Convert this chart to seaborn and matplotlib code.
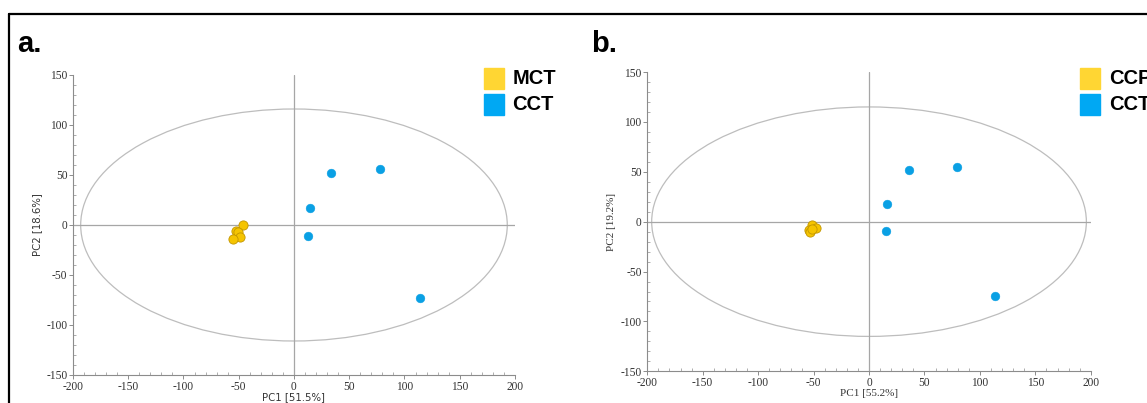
import matplotlib
matplotlib.use("Agg")
import matplotlib.pyplot as plt
import seaborn as sns
import pandas as pd
from matplotlib.patches import Ellipse, Rectangle
from matplotlib.lines import Line2D
from matplotlib.ticker import MultipleLocator

# Panel a: MCT vs CCT
a_groups = ['MCT'] * 5 + ['CCT'] * 5
a_pc1 = [-46.4, -52.5, -51.0, -49.0, -55.5, 33.2, 77.5, 14.8, 12.5, 113.6]
a_pc2 = [-0.3, -6.3, -7.0, -12.0, -14.3, 52.0, 56.3, 16.7, -11.3, -73.0]
a_ellipse = [193, 116]   # semi-axes (PC1, PC2) of the 95% ellipse
a_xlabel = 'PC1 [51.5%]'
a_ylabel = 'PC2 [18.6%]'

# Panel b: CCP vs CCT
b_groups = ['CCP'] * 5 + ['CCT'] * 5
b_pc1 = [-51.5, -48.2, -53.8, -53.0, -51.0, 35.8, 79.3, 16.6, 15.2, 113.2]
b_pc2 = [-3.3, -6.0, -8.3, -10.3, -7.0, 51.4, 54.7, 17.7, -9.0, -74.3]
b_ellipse = [196, 115]
b_xlabel = 'PC1 [55.2%]'
b_ylabel = 'PC2 [19.2%]'

ticks = [-200, -150, -100, -50, 0, 50, 100, 150, 200]

sns.set_theme(style="white")
plt.rcParams['font.family'] = 'sans-serif'
plt.rcParams['axes.unicode_minus'] = False

dot_yellow = '#F5C400'
dot_blue = '#0AA0E4'
leg_yellow = '#FFD633'
leg_blue = '#00A8F3'
axis_gray = '#8c8c8c'

fig = plt.figure(figsize=(11.47, 4.03), dpi=100)


def draw_panel(rect, groups, pc1, pc2, ell, xlabel, ylabel, label_family, lsize):
    ax = fig.add_axes(rect)
    df = pd.DataFrame({'PC1': pc1, 'PC2': pc2, 'group': groups})
    first = groups[0]
    ax.add_patch(Ellipse((0, 0), 2 * ell[0], 2 * ell[1], fill=False,
                         edgecolor='#bdbdbd', lw=0.9, zorder=1))
    ax.axhline(0, color='#a6a6a6', lw=0.9, zorder=1)
    ax.axvline(0, color='#a6a6a6', lw=0.9, zorder=1)
    sub = df[df['group'] == 'CCT']
    sns.scatterplot(data=sub, x='PC1', y='PC2', color=dot_blue, s=40,
                    edgecolor=dot_blue, linewidth=0.3, ax=ax, zorder=3)
    sub = df[df['group'] == first]
    sns.scatterplot(data=sub, x='PC1', y='PC2', color=dot_yellow, s=44,
                    edgecolor='#C29600', linewidth=0.6, ax=ax, zorder=3)
    ax.set_xlim(-200, 200)
    ax.set_ylim(-150, 150)
    ax.set_xticks(ticks)
    ax.set_yticks([-150, -100, -50, 0, 50, 100, 150])
    ax.xaxis.set_minor_locator(MultipleLocator(10))
    ax.yaxis.set_minor_locator(MultipleLocator(10))
    ax.tick_params(which='major', direction='out', length=3, width=0.7,
                   color=axis_gray, labelsize=8.3, pad=1, labelcolor='#333333')
    ax.tick_params(which='minor', direction='in', length=2.5, width=0.6,
                   color='#a0a0a0')
    ax.tick_params(axis='x', which='both', bottom=True)
    ax.tick_params(axis='y', which='both', left=True)
    for lab in ax.get_xticklabels() + ax.get_yticklabels():
        lab.set_family('Liberation Serif')
    for s in ['top', 'right']:
        ax.spines[s].set_visible(False)
    for s in ['left', 'bottom']:
        ax.spines[s].set_color(axis_gray)
        ax.spines[s].set_linewidth(0.8)
    ax.set_xlabel(xlabel, fontsize=lsize, family=label_family, color='#333333',
                  labelpad=0)
    ax.set_ylabel(ylabel, fontsize=lsize, family=label_family, color='#333333',
                  labelpad=3)
    ax.set_facecolor('white')
    return ax


ax_a = draw_panel([0.0636, 0.0695, 0.3854, 0.7444], a_groups, a_pc1, a_pc2,
                  a_ellipse, a_xlabel, a_ylabel, 'DejaVu Sans', 7.3)
ax_b = draw_panel([0.5643, 0.0786, 0.3867, 0.7427], b_groups, b_pc1, b_pc2,
                  b_ellipse, b_xlabel, b_ylabel, 'Liberation Serif', 8)

# panel letters
fig.text(0.015, 0.87, 'a.', fontsize=21, fontweight='bold',
         family='Liberation Sans', color='black')
fig.text(0.515, 0.87, 'b.', fontsize=21, fontweight='bold',
         family='Liberation Sans', color='black')


# square-patch legends in the top right of each panel
def square_legend(x0, labels):
    colors = [leg_yellow, leg_blue]
    for i, (lab, c) in enumerate(zip(labels, colors)):
        y_top = 68 + i * 26.5
        fig.patches.append(Rectangle((x0 / 1147, 1 - (y_top + 20.5) / 403),
                                     20 / 1147, 20.5 / 403, color=c,
                                     transform=fig.transFigure, figure=fig))
        fig.text((x0 + 29) / 1147, 1 - (y_top + 10.5) / 403, lab,
                 fontsize=14.5, fontweight='bold', family='Liberation Sans',
                 va='center', ha='left', color='black')


square_legend(483.5, [a_groups[0], 'CCT'])
square_legend(1080, [b_groups[0], 'CCT'])

# figure border (top and left edges visible)
fig.add_artist(Line2D([9 / 1147, 9 / 1147], [0, 1 - 13.5 / 403],
                      transform=fig.transFigure, color='black', lw=1.6))
fig.add_artist(Line2D([9 / 1147, 1], [1 - 13.5 / 403, 1 - 13.5 / 403],
                      transform=fig.transFigure, color='black', lw=1.6))

fig.savefig('out.png', dpi=100)
plt.close(fig)
